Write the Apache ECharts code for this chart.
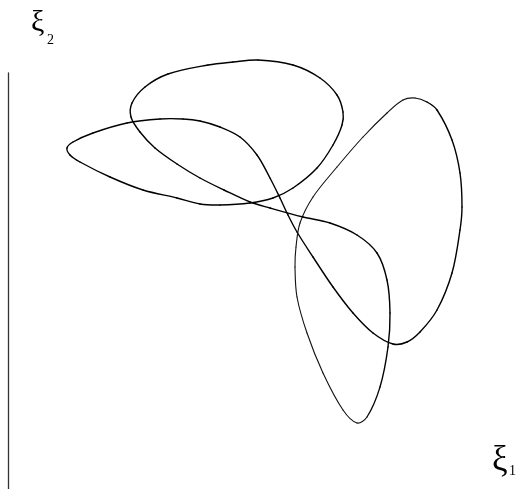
<!DOCTYPE html>
<html>
<head>
<meta charset="utf-8">
<script src="https://cdn.jsdelivr.net/npm/echarts@6/dist/echarts.min.js"></script>
<style>
  html, body { margin: 0; padding: 0; background: #fff; }
  #chart { width: 518px; height: 489px; }
</style>
</head>
<body>
<div id="chart"></div>
<script>
// Closed parametric curve in the (ξ1, ξ2) plane, listed point by point
// (the last point connects back to the first).
const xi1 = [
  25.0, 28.5, 31.2, 32.9, 33.5, 33.4, 32.5, 30.9, 28.5, 26.5,
  24.2, 21.2, 19.2, 16.9, 13.5, 10.2, 7.2, 6.2, 5.9, 6.5,
  8.5, 11.9, 15.2, 17.5, 19.2, 21.2, 23.2, 24.9, 26.2, 27.2,
  28.0, 28.9, 30.5, 32.5, 34.5, 36.5, 38.5, 39.9, 41.2, 42.9,
  44.4, 45.2, 45.4, 45.2, 44.4, 42.9, 41.9, 40.7, 39.5, 37.9,
  35.5, 32.9, 30.5, 29.2, 28.8, 28.7, 28.9, 29.9, 31.5, 33.5,
  34.9, 35.9, 37.2, 38.0, 38.2, 37.9, 36.9, 34.9, 32.2, 29.5,
  26.2, 24.2, 21.6, 19.2, 16.9, 14.7, 13.2, 12.3, 12.4, 13.7,
  16.0, 20.0, 22.5
];
const xi2 = [
  42.9, 42.4, 41.1, 39.4, 37.7, 36.4, 34.4, 32.1, 30.1, 29.1,
  28.6, 28.4, 28.5, 29.1, 29.9, 31.2, 32.7, 33.4, 34.1, 34.7,
  35.6, 36.6, 37.0, 37.0, 36.8, 36.2, 35.2, 33.4, 31.1, 29.1,
  27.4, 25.7, 23.2, 20.2, 17.6, 15.6, 14.5, 14.7, 15.7, 17.9,
  21.6, 25.9, 28.2, 31.6, 34.9, 37.9, 38.7, 39.1, 38.9, 37.6,
  35.2, 32.2, 29.2, 26.6, 24.2, 22.2, 19.2, 15.6, 11.6, 7.9,
  6.6, 7.2, 10.2, 14.2, 17.6, 20.9, 23.6, 25.4, 26.6, 27.2,
  28.1, 28.7, 29.9, 31.1, 32.5, 34.1, 35.7, 37.2, 38.6, 40.2,
  41.5, 42.4, 42.7
];

const axisNames = { x: 'ξ', xSub: '1', y: 'ξ', ySub: '2' };

const curve = xi1.map((v, i) => [v, xi2[i]]);
const n = curve.length;

// Stroke weight per segment: the stretch running from the top of the
// right loop down round the bottom loop is rendered lighter.
function segmentStyle(i) {
  if (i >= 47 && i <= 60) return { stroke: '#111', lineWidth: 1.1 };
  if (i === 46 || i === 61) return { stroke: '#080808', lineWidth: 1.25 };
  return { stroke: '#000', lineWidth: 1.4 };
}

// Smooth closed curve: one cubic Bézier per segment with chord-scaled tangents.
function renderSegment(params, api) {
  const i = params.dataIndex;
  const P = k => api.coord(curve[((k % n) + n) % n]);
  const dist = (a, b) => Math.hypot(b[0] - a[0], b[1] - a[1]);
  const tangent = k => {
    const a = P(k - 1), b = P(k), c = P(k + 1);
    const s = dist(a, b) + dist(b, c) || 1;
    return [(c[0] - a[0]) / s, (c[1] - a[1]) / s];
  };
  const p1 = P(i), p2 = P(i + 1);
  const d = dist(p1, p2) / 3;
  const t1 = tangent(i), t2 = tangent(i + 1);
  return {
    type: 'bezierCurve',
    shape: {
      x1: p1[0], y1: p1[1], x2: p2[0], y2: p2[1],
      cpx1: p1[0] + t1[0] * d, cpy1: p1[1] + t1[1] * d,
      cpx2: p2[0] - t2[0] * d, cpy2: p2[1] - t2[1] * d
    },
    style: Object.assign({ fill: null, lineCap: 'round' }, segmentStyle(i))
  };
}

const chart = echarts.init(document.getElementById('chart'), null, { renderer: 'canvas' });
chart.setOption({
  animation: false,
  backgroundColor: '#fff',
  grid: { left: 8, top: 73, width: 490, height: 416 },
  xAxis: {
    type: 'value', min: 0, max: 49,
    show: false
  },
  yAxis: {
    type: 'value', min: 0, max: 41.6,
    axisLine: { show: true, onZero: false, lineStyle: { color: '#333', width: 1.3 } },
    axisTick: { show: false },
    axisLabel: { show: false },
    splitLine: { show: false }
  },
  series: [{
    type: 'custom',
    coordinateSystem: 'cartesian2d',
    data: curve,
    encode: { x: 0, y: 1 },
    clip: false,
    renderItem: renderSegment
  }],
  graphic: [
    { type: 'text', left: 31, top: 8,
      style: { text: axisNames.y, font: '30px "Liberation Serif"', fill: '#000' } },
    { type: 'text', left: 47, top: 33,
      style: { text: axisNames.ySub, font: '14px "Liberation Serif"', fill: '#000' } },
    { type: 'text', left: 492, top: 443,
      style: { text: axisNames.x, font: '35px "Liberation Serif"', fill: '#000' } },
    { type: 'text', left: 509, top: 464,
      style: { text: axisNames.xSub, font: '14px "Liberation Serif"', fill: '#000' } }
  ]
});
</script>
</body>
</html>
